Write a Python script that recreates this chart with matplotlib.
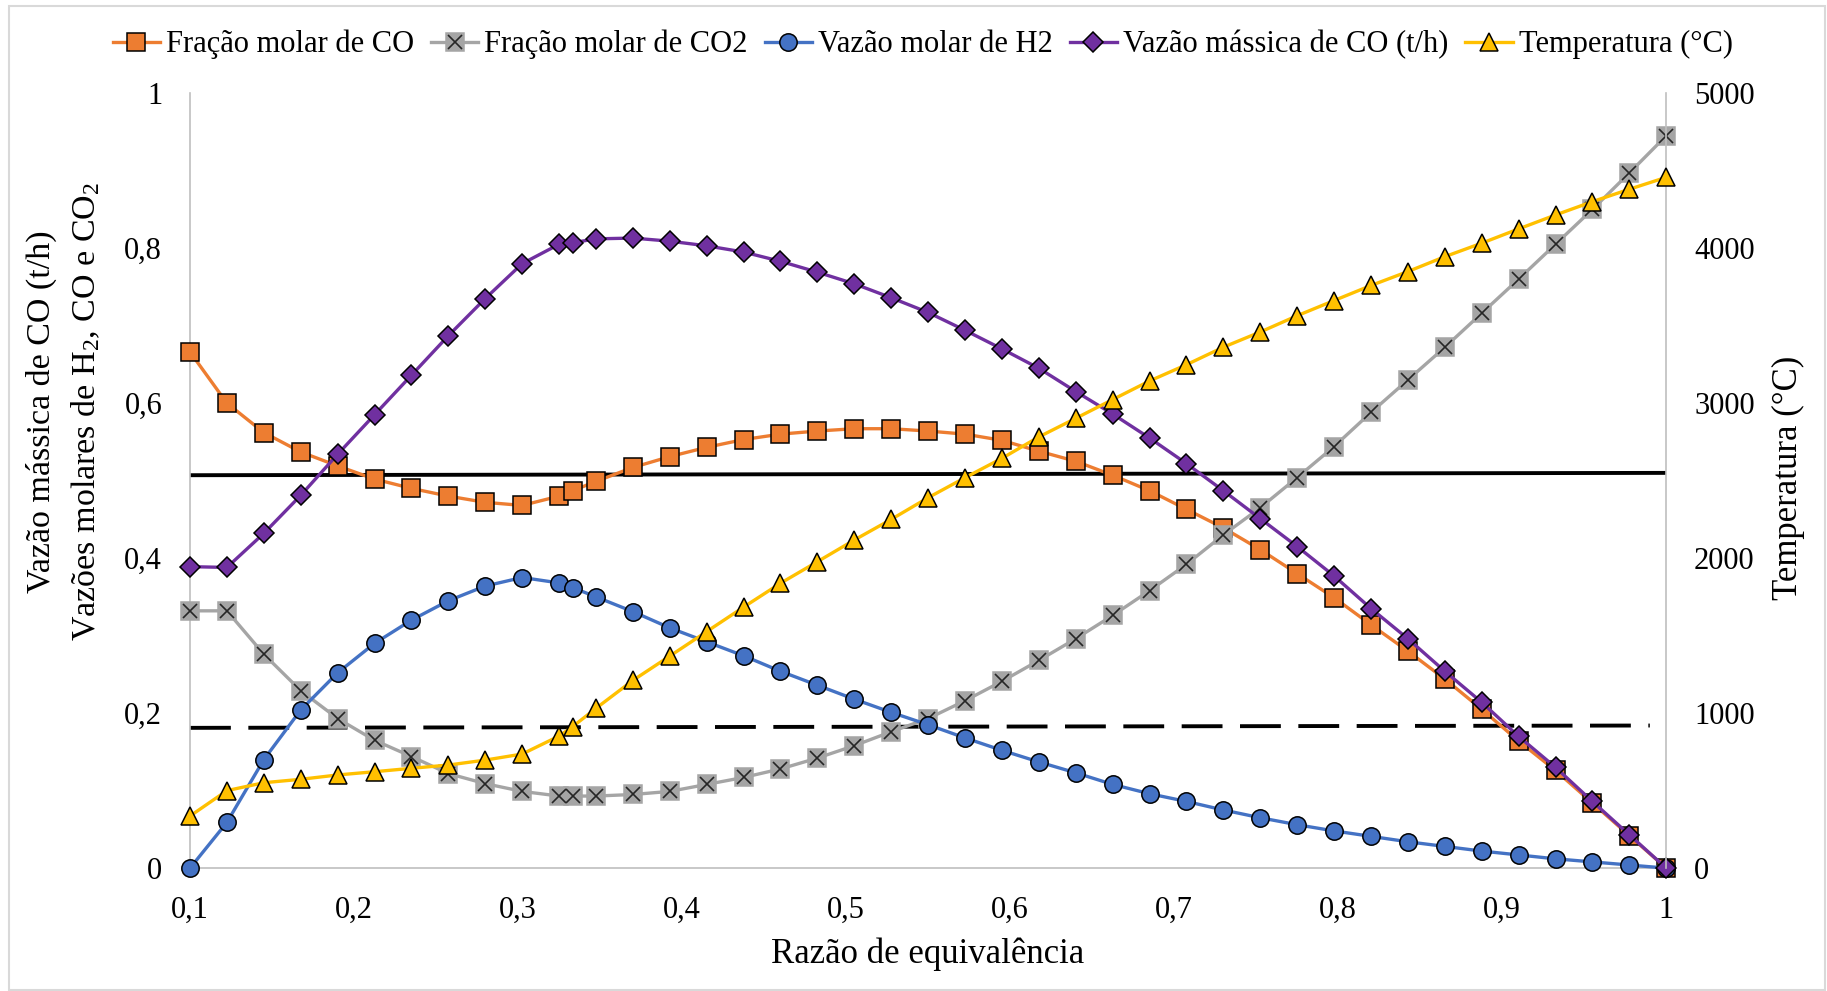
import matplotlib
matplotlib.use("Agg")
import matplotlib.pyplot as plt
from matplotlib.ticker import FuncFormatter, MultipleLocator
from matplotlib.patches import Rectangle

plt.rcParams['font.family'] = ['Liberation Serif', 'DejaVu Serif']
plt.rcParams['mathtext.fontset'] = 'custom'
plt.rcParams['mathtext.rm'] = 'Liberation Serif'
plt.rcParams['mathtext.it'] = 'Liberation Serif:italic'

# razão de equivalência
phi = [0.1, 0.1225, 0.145, 0.1675, 0.19, 0.2125, 0.235, 0.2575, 0.28, 0.3025,
       0.325, 0.3333, 0.3475, 0.37, 0.3925, 0.415, 0.4375, 0.46, 0.4825, 0.505,
       0.5275, 0.55, 0.5725, 0.595, 0.6175, 0.64, 0.6625, 0.685, 0.7075, 0.73,
       0.7525, 0.775, 0.7975, 0.82, 0.8425, 0.865, 0.8875, 0.91, 0.9325, 0.955,
       0.9775, 1.0]

frac_co = [0.666, 0.600, 0.562, 0.537, 0.519, 0.502, 0.490, 0.480, 0.472, 0.468,
           0.480, 0.487, 0.499, 0.517, 0.531, 0.543, 0.553, 0.560, 0.564, 0.567,
           0.567, 0.564, 0.560, 0.552, 0.538, 0.525, 0.507, 0.487, 0.463, 0.439,
           0.411, 0.380, 0.349, 0.314, 0.280, 0.244, 0.205, 0.164, 0.126, 0.084,
           0.042, 0.0]

frac_co2 = [0.332, 0.332, 0.276, 0.229, 0.193, 0.165, 0.144, 0.122, 0.109, 0.099,
            0.093, 0.093, 0.093, 0.095, 0.099, 0.108, 0.117, 0.128, 0.142, 0.158,
            0.176, 0.193, 0.216, 0.241, 0.268, 0.296, 0.326, 0.358, 0.392, 0.430,
            0.465, 0.504, 0.544, 0.588, 0.630, 0.672, 0.716, 0.760, 0.805, 0.850,
            0.897, 0.945]

vazao_h2 = [0.0, 0.059, 0.140, 0.204, 0.252, 0.290, 0.320, 0.345, 0.364, 0.375,
            0.368, 0.362, 0.350, 0.331, 0.310, 0.292, 0.274, 0.254, 0.236, 0.218,
            0.201, 0.185, 0.168, 0.152, 0.137, 0.123, 0.108, 0.096, 0.086, 0.075,
            0.065, 0.056, 0.048, 0.041, 0.034, 0.028, 0.022, 0.017, 0.012, 0.008,
            0.004, 0.0]

massa_co = [0.389, 0.388, 0.432, 0.481, 0.534, 0.585, 0.636, 0.687, 0.735, 0.780,
            0.805, 0.807, 0.812, 0.813, 0.809, 0.803, 0.795, 0.783, 0.769, 0.754,
            0.736, 0.717, 0.694, 0.670, 0.645, 0.615, 0.586, 0.555, 0.522, 0.487,
            0.451, 0.415, 0.377, 0.335, 0.296, 0.254, 0.214, 0.170, 0.130, 0.086,
            0.043, 0.0]

temp = [336, 500, 551, 573, 601, 622, 644, 665, 697, 736,
        852, 913, 1031, 1211, 1368, 1526, 1684, 1838, 1977, 2117,
        2250, 2390, 2519, 2644, 2782, 2902, 3023, 3143, 3248, 3361,
        3459, 3564, 3662, 3759, 3849, 3945, 4032, 4124, 4214, 4300,
        4380, 4457]

# linhas de referência (sólida e tracejada)
ref_solid = [0.507, 0.510]
ref_dash = [0.181, 0.184]

c_or = '#ED7D31'
c_gr = '#A5A5A5'
c_bl = '#4472C4'
c_pu = '#7030A0'
c_ye = '#FFC000'

fs = 22
fs_lab = 25
lw = 2.4
ms = 12.5
mew = 1.1


def comma(v, pos):
    s = '{:g}'.format(round(v, 4))
    return s.replace('.', ',')


fig = plt.figure(figsize=(18.27, 9.91), dpi=100)
ax = fig.add_axes([0.104, 0.124, 0.808, 0.782])
ax2 = ax.twinx()

ax.plot([phi[0], phi[-1]], ref_solid, color='black', lw=2.8, zorder=1)
ax.plot([phi[0], 0.99], ref_dash, color='black', lw=2.8, dashes=(10.5, 4.5), zorder=1)

l_or, = ax.plot(phi, frac_co, color=c_or, lw=lw, marker='s', ms=ms, mfc=c_or,
                mec='black', mew=mew, clip_on=False, zorder=3)
l_gr, = ax.plot(phi, frac_co2, color=c_gr, lw=lw, marker='s', ms=ms, mfc=c_gr,
                mec=c_gr, mew=mew, clip_on=False, zorder=3)
x_gr, = ax.plot(phi, frac_co2, ls='none', marker='x', ms=ms * 0.8, mec='#262626',
                mew=1.2, clip_on=False, zorder=3)
l_bl, = ax.plot(phi, vazao_h2, color=c_bl, lw=lw, marker='o', ms=ms, mfc=c_bl,
                mec='black', mew=mew, clip_on=False, zorder=3)
l_pu, = ax.plot(phi, massa_co, color=c_pu, lw=lw, marker='D', ms=ms * 0.85, mfc=c_pu,
                mec='black', mew=mew, clip_on=False, zorder=3)
l_ye, = ax2.plot(phi, temp, color=c_ye, lw=lw, marker='^', ms=ms, mfc=c_ye,
                 mec='black', mew=mew, clip_on=False, zorder=3)

ax.set_xlim(0.1, 1.0)
ax.set_ylim(0, 1)
ax2.set_ylim(0, 5000)
ax.xaxis.set_major_locator(MultipleLocator(0.1))
ax.yaxis.set_major_locator(MultipleLocator(0.2))
ax2.yaxis.set_major_locator(MultipleLocator(1000))
ax.xaxis.set_major_formatter(FuncFormatter(comma))
ax.yaxis.set_major_formatter(FuncFormatter(comma))

ax.tick_params(axis='both', length=0, labelsize=fs)
ax.tick_params(axis='x', pad=20)
ax.tick_params(axis='y', pad=20)
ax2.tick_params(axis='y', length=0, labelsize=fs, pad=20)

for a in (ax, ax2):
    a.spines['top'].set_visible(False)
    for s in ('left', 'right', 'bottom'):
        a.spines[s].set_color('#BFBFBF')
        a.spines[s].set_linewidth(1.2)
ax.spines['right'].set_visible(False)
ax2.spines['left'].set_visible(False)
ax2.spines['bottom'].set_visible(False)

ax.set_xlabel('Razão de equivalência', fontsize=fs_lab, labelpad=9)
fig.text(0.0224, 0.585, 'Vazão mássica de CO (t/h)', rotation=90, fontsize=24.5,
         ha='center', va='center')
fig.text(0.0468, 0.585, r'Vazões molares de H$_2$, CO e CO$_2$', rotation=90,
         fontsize=24.5, ha='center', va='center')
fig.text(0.979, 0.518, 'Temperatura (°C)', rotation=90, fontsize=fs_lab,
         ha='center', va='center')

handles = [l_or, (l_gr, x_gr), l_bl, l_pu, l_ye]
labels = ['Fração molar de CO', 'Fração molar de CO2', 'Vazão molar de H2',
          'Vazão mássica de CO (t/h)', 'Temperatura (°C)']
fig.legend(handles, labels, loc='center', bbox_to_anchor=(0.505, 0.955), ncol=5,
           frameon=False, fontsize=fs, handlelength=1.55, handletextpad=0.2,
           columnspacing=0.55, borderaxespad=0)

fig.patches.append(Rectangle((0.005, 0.001), 0.994, 0.993, transform=fig.transFigure,
                             fill=False, ec='#D9D9D9', lw=1.5))

fig.savefig('out.png', dpi=100)
